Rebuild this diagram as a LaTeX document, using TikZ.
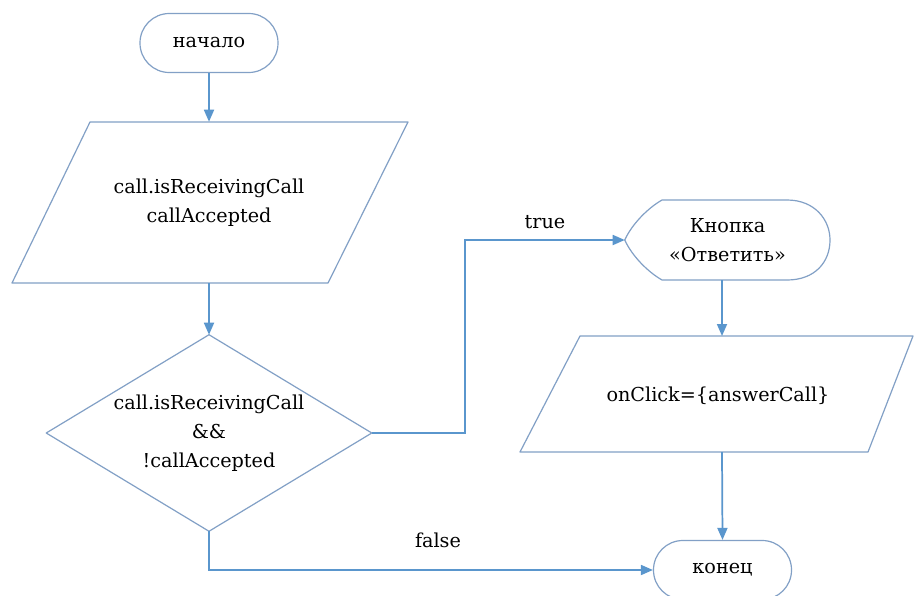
\documentclass[tikz,border=0pt]{standalone}
\usepackage{fontspec}
\setmainfont{DejaVu Serif}
\usetikzlibrary{arrows.meta}
\definecolor{outline}{RGB}{130,160,198}
\definecolor{flow}{RGB}{90,150,205}
\tikzset{
  box/.style={draw=none, inner sep=0pt, align=center, font=\rmfamily\fontsize{14.4}{21.75}\selectfont},
  term/.style={box, draw=outline, line width=0.9pt, rounded corners=22pt, fill=white,
               minimum width=103.5pt, minimum height=44.25pt},
  shapeline/.style={draw=outline, line width=0.9pt, line join=round},
  flowline/.style={draw=flow, line width=1.3pt, -{Triangle[length=9pt,width=7.5pt]}},
  lbl/.style={font=\rmfamily\fontsize{14.4}{18}\selectfont, inner sep=0pt}
}
\begin{document}
\begin{tikzpicture}[x=0.75pt,y=-0.75pt]
\useasboundingbox (0,0) rectangle (914,596);
\fill[white] (0,0) rectangle (914,596);

% nodes
\node[term] (start) at (209,43) {начало};
\node[box, minimum width=297pt, minimum height=120.75pt] (io1) at (209,202.5) {call.isReceivingCall\\callAccepted};
\node[box, minimum width=243.75pt, minimum height=147pt] (dec) at (209,433) {call.isReceivingCall\\\&\&\\!callAccepted};
\node[box, minimum width=153.75pt, minimum height=60pt] (btn) at (727.5,240) {Кнопка\\«Ответить»};
\node[box, minimum width=294.75pt, minimum height=87pt] (io2) at (718,396) {onClick=\{answerCall\}};
\node[term] (end) at (722.5,570) {конец};

% outlines of the data and decision blocks
\draw[shapeline] (90,122) -- (408,122) -- (328,283) -- (12,283) -- cycle;
\draw[shapeline] (dec.north) -- (dec.east) -- (dec.south) -- (dec.west) -- cycle;
\draw[shapeline] (580,336) -- (913,336) -- (868,452) -- (520,452) -- cycle;
\draw[shapeline] (662,200) -- (787,200)
  .. controls (815,200) and (830,220) .. (830,240)
  .. controls (830,262) and (815,280) .. (787,280)
  -- (662,280)
  .. controls (648,272) and (632,256) .. (btn.west)
  .. controls (632,224) and (648,208) .. (662,200) -- cycle;

% connectors
\draw[flowline] (start.south) -- (io1.north);
\draw[flowline] (io1.south) -- (dec.north);
\draw[flowline] (dec.east) -- ++(93,0) |- (btn.west);
\draw[flowline] (btn.south -| 722,0) -- (722,336);
\draw[flowline] (722,452) -- (end.north);
\draw[flowline] (dec.south) |- (end.west);

% branch labels
\node[lbl] (ltrue) at (545,222) {true};
\node[lbl] (lfalse) at (438,540) {false};
\end{tikzpicture}
\end{document}
